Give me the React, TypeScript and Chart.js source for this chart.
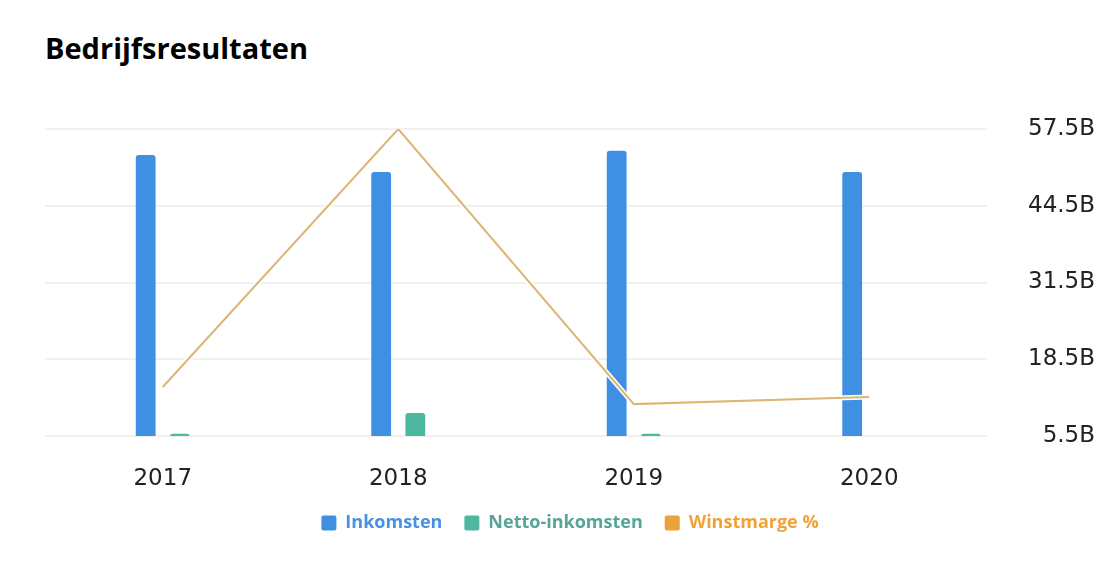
import React, { useEffect, useRef } from "react";
import { Chart, registerables } from "chart.js";

Chart.register(...registerables);

const categories = ["2017", "2018", "2019", "2020"];
const inkomsten = [53.1, 50.2, 53.8, 50.2];
const nettoInkomsten = [5.9, 9.4, 5.9, 0];
const winstmarge = [13.8, 57.5, 10.9, 12.1];
const yTicks = [5.5, 18.5, 31.5, 44.5, 57.5];

const BLUE = "#3f8fe2";
const GREEN = "#4db7a0";
const LINE = "#dcb774";
const ORANGE = "#eba13c";

export default function App() {
  const ref = useRef<HTMLCanvasElement | null>(null);

  useEffect(() => {
    if (!ref.current) return;
    const chart = new Chart(ref.current, {
      type: "bar",
      data: {
        labels: categories,
        datasets: [
          {
            label: "Inkomsten",
            data: inkomsten,
            backgroundColor: BLUE,
            categoryPercentage: 0.29,
            barPercentage: 0.58,
            borderRadius: 3,
            borderSkipped: "start",
            order: 2,
          },
          {
            label: "Netto-inkomsten",
            data: nettoInkomsten,
            backgroundColor: GREEN,
            categoryPercentage: 0.29,
            barPercentage: 0.58,
            borderRadius: 3,
            borderSkipped: "start",
            order: 2,
          },
          {
            type: "line",
            label: "Winstmarge %",
            data: winstmarge,
            borderColor: LINE,
            backgroundColor: ORANGE,
            borderWidth: 2,
            pointRadius: 0,
            tension: 0,
            order: 0,
          } as any,
          {
            type: "line",
            label: "__halo",
            data: winstmarge,
            borderColor: "#ffffff",
            borderWidth: 5,
            pointRadius: 0,
            tension: 0,
            order: 1,
          } as any,
        ],
      },
      options: {
        animation: false,
        responsive: false,
        maintainAspectRatio: false,
        layout: { padding: { left: 45, right: 19, top: 129, bottom: 37 } },
        scales: {
          x: {
            grid: { display: false },
            border: { display: false },
            ticks: {
              color: "#222",
              font: { family: "DejaVu Sans", size: 23 },
              padding: 21,
            },
            afterFit: (s: any) => {
              s.height = 56;
            },
          },
          y: {
            position: "right",
            min: 5.5,
            max: 57.5,
            afterBuildTicks: (s: any) => {
              s.ticks = yTicks.map((v) => ({ value: v }));
            },
            grid: { color: "#f0f0f0", lineWidth: 2, drawTicks: false },
            border: { display: false },
            ticks: {
              color: "#222",
              font: { family: "DejaVu Sans", size: 23 },
              crossAlign: "far",
              callback: (v: any) => `${Number(v).toFixed(1)}B`,
            },
            afterFit: (s: any) => {
              s.width = 108;
            },
          },
        },
        plugins: {
          title: { display: false },
          tooltip: { enabled: false },
          legend: {
            position: "bottom",
            labels: {
              boxWidth: 15,
              boxHeight: 15,
              padding: 22,
              font: { family: "Open Sans", size: 18, weight: "bold" },
              filter: (item: any) => item.text !== "__halo",
              sort: (a: any, b: any) => a.datasetIndex - b.datasetIndex,
              generateLabels: (c: any) => {
                const items = Chart.defaults.plugins.legend.labels.generateLabels(c);
                const colors: Record<string, [string, string]> = {
                  "Inkomsten": [BLUE, "#4a90e2"],
                  "Netto-inkomsten": [GREEN, "#56a596"],
                  "Winstmarge %": [ORANGE, "#f0a23a"],
                };
                return items.map((it: any) => {
                  const col = colors[it.text];
                  if (col) {
                    it.fillStyle = col[0];
                    it.strokeStyle = col[0];
                    it.fontColor = col[1];
                    it.lineWidth = 0;
                    it.borderRadius = 2;
                  }
                  return it;
                });
              },
            },
          },
        },
      },
    });
    return () => chart.destroy();
  }, []);

  return (
    <div style={{ position: "absolute", left: 0, top: 0, width: 1114, height: 579, background: "#fff" }}>
      <div
        style={{
          position: "absolute",
          left: 45,
          top: 28,
          fontFamily: "Open Sans",
          fontWeight: 700,
          fontSize: 29,
          color: "#000",
          whiteSpace: "nowrap",
        }}
      >
        Bedrijfsresultaten
      </div>
      <canvas ref={ref} width={1114} height={579} style={{ position: "absolute", left: 0, top: 0 }} />
    </div>
  );
}
